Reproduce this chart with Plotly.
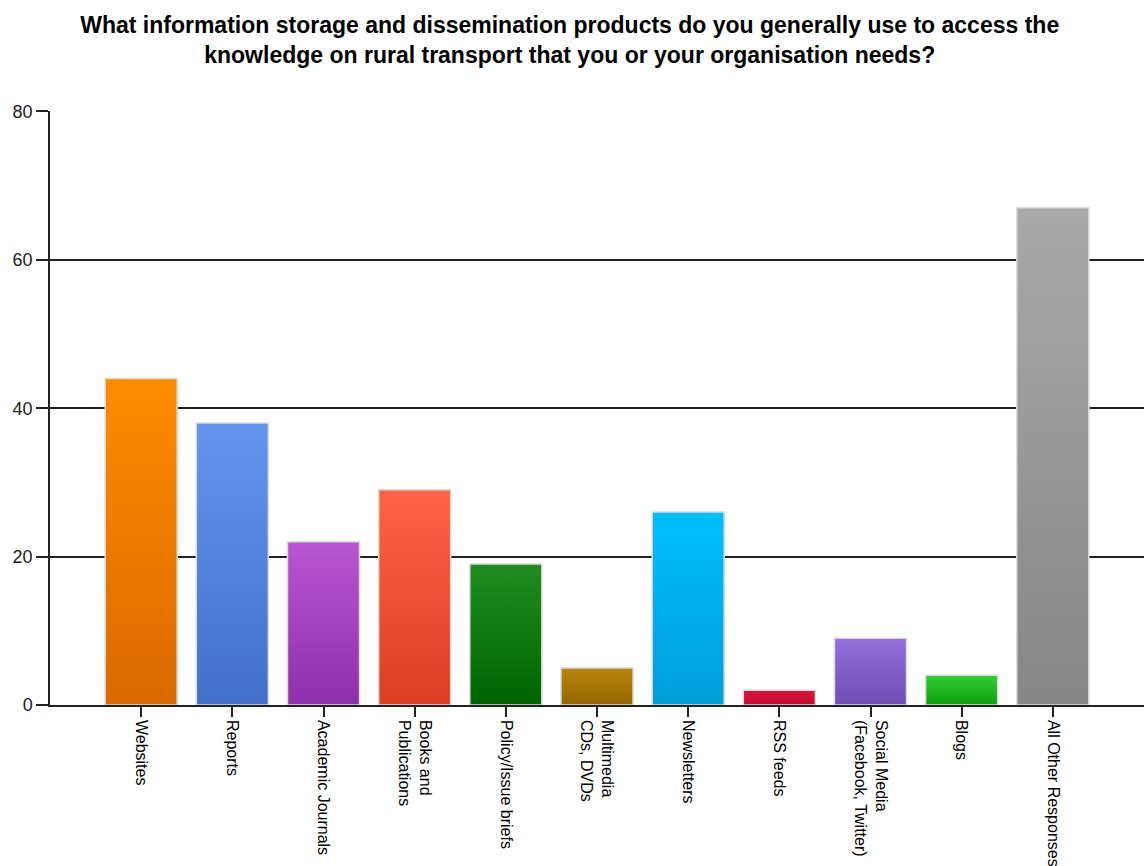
import plotly.graph_objects as go

# Survey responses: products used to access rural transport knowledge
categories = [
    "Websites",
    "Reports",
    "Academic Journals",
    "Books and<br>Publications",
    "Policy/Issue briefs",
    "Multimedia<br>CDs, DVDs",
    "Newsletters",
    "RSS feeds",
    "Social Media<br>(Facebook, Twitter)",
    "Blogs",
    "All Other Responses",
]
counts = [44, 38, 22, 29, 19, 5, 26, 2, 9, 4, 67]

# Vertical gradient for each bar: lighter at the top, darker at the base
top_colors = ["#FF8C00", "#6495ED", "#BA55D3", "#FF6347", "#228B22", "#B8860B",
              "#00BFFF", "#DC143C", "#9370DB", "#32CD32", "#A9A9A9"]
bottom_colors = ["#DA6A00", "#4270C8", "#8E2FAE", "#DB3F22", "#006400", "#946600",
                 "#009ED9", "#C00A30", "#6E4DB5", "#0E9E0E", "#868686"]

y_ticks = [0, 20, 40, 60, 80]

BAR_WIDTH = 0.79
FONT = "Liberation Sans, Arial, sans-serif"

fig = go.Figure()
half = BAR_WIDTH / 2
for i, (name, value, top, bottom) in enumerate(zip(categories, counts, top_colors, bottom_colors)):
    fig.add_trace(go.Scatter(
        x=[i - half, i + half, i + half, i - half, i - half],
        y=[0, 0, value, value, 0],
        mode="lines",
        fill="toself",
        fillgradient=dict(type="vertical", colorscale=[[0, bottom], [1, top]]),
        line=dict(color="#dadada", width=1.5),
        name=name.replace("<br>", " "),
        hoveron="fills",
        showlegend=False,
    ))

# y axis line continues a little below zero
fig.add_shape(type="line", xref="paper", x0=0, x1=0,
              yref="y", ysizemode="pixel", yanchor=0, y0=0, y1=-11,
              line=dict(color="#222", width=1.5))

fig.update_layout(
    width=1144, height=866,
    margin=dict(l=50, r=0, t=111, b=161),
    paper_bgcolor="white", plot_bgcolor="white",
    font=dict(family=FONT, color="#111"),
    title=dict(
        text="<b>What information storage and dissemination products do you generally use to access the<br>knowledge on rural transport that you or your organisation needs?</b>",
        x=0.498, xanchor="center", xref="container",
        y=1 - 33 / 866, yanchor="top", yref="container",
        font=dict(family=FONT, size=23, color="#000"),
    ),
)

fig.update_xaxes(
    range=[-1, 11],
    tickmode="array", tickvals=list(range(len(categories))), ticktext=categories,
    tickangle=90, ticks="outside", ticklen=10, tickwidth=1.5, tickcolor="#222",
    tickfont=dict(family=FONT, size=16, color="#000"),
    showline=True, linecolor="#222", linewidth=1.5,
    showgrid=False, zeroline=False,
)
fig.update_yaxes(
    range=[0, 80.05],
    tickmode="array", tickvals=y_ticks,
    ticks="outside", ticklen=12, tickwidth=1.5, tickcolor="#222",
    tickfont=dict(family=FONT, size=18, color="#222"),
    showline=True, linecolor="#222", linewidth=1.5,
    showgrid=True, gridcolor="#222", gridwidth=1.6,
    zeroline=False,
)

fig.write_html("out.html")
